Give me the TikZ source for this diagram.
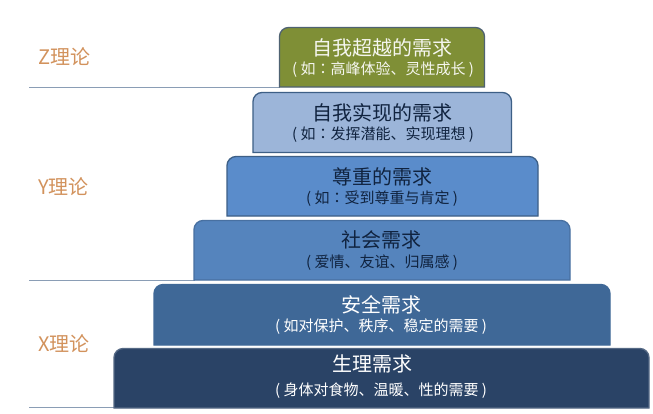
\documentclass[tikz,border=0pt]{standalone}
\usepackage{fontspec}
\setmainfont{Liberation Sans}
\newfontfamily\cjk{Noto Sans CJK SC}
\newfontfamily\cjktc{Noto Sans CJK TC}
\newcommand{\mcolon}{{\cjktc ：}}
\definecolor{edgeA}{HTML}{4F6272}
\definecolor{edgeB}{HTML}{3D5F86}
\definecolor{fillA}{HTML}{7F8F36}
\definecolor{fillB}{HTML}{9CB5D9}
\definecolor{fillC}{HTML}{5A8CCB}
\definecolor{fillD}{HTML}{5584BD}
\definecolor{fillE}{HTML}{3F6897}
\definecolor{fillF}{HTML}{2A4366}
\definecolor{ruleC}{HTML}{8A9DB5}
\definecolor{theoryC}{HTML}{D2925C}
\definecolor{darkT}{HTML}{10233F}
\tikzset{
  x=1pt,y=-1pt,
  tier/.style={draw=edgeB,line width=1.3pt,rounded corners=9pt},
  headtext/.style={font=\cjk\fontsize{20}{22}\selectfont,inner sep=0pt},
  subtext/.style={font=\cjk\fontsize{15}{17}\selectfont,inner sep=0pt},
  theory/.style={font=\cjk\fontsize{20}{22}\selectfont,text=theoryC,inner sep=0pt,anchor=west},
  divider/.style={draw=ruleC,line width=1pt},
  mark text/.style={font=\cjk\fontsize{14}{16}\selectfont,text=white,inner sep=0pt,opacity=.9},
}
\begin{document}
\begin{tikzpicture}
\useasboundingbox (0,0) rectangle (653,413);
\fill[white] (0,0) rectangle (653,413);
% dividers
\coordinate (z1) at (29,87); \coordinate (z2) at (280,87);
\coordinate (y1) at (29,280); \coordinate (y2) at (195,280);
\coordinate (x1) at (29,407); \coordinate (x2) at (115,407);
\draw[divider] (z1) -- (z2);
\draw[divider] (y1) -- (y2);
\draw[divider] (x1) -- (x2);
% tiers
\draw[tier,fill=fillA,draw=edgeA] (279.5,87) [sharp corners] -- (279.5,87) [rounded corners=9pt] -- (279.5,27.5) -- (484.5,27.5) [sharp corners] -- (484.5,87) -- cycle;
\draw[tier,fill=fillB] (253,152.5) [rounded corners=9pt] -- (253,92.5) -- (511.5,92.5) [sharp corners] -- (511.5,152.5) -- cycle;
\draw[tier,fill=fillC] (227,216) [rounded corners=9pt] -- (227,156.5) -- (538,156.5) [sharp corners] -- (538,216) -- cycle;
\draw[tier,fill=fillD,draw=fillD!85!black] (194,280) [rounded corners=9pt] -- (194,220.5) -- (570,220.5) [sharp corners] -- (570,280) -- cycle;
\draw[tier,fill=fillE,draw=fillE] (154,345) [rounded corners=9pt] -- (154,284.5) -- (610,284.5) [sharp corners] -- (610,345) -- cycle;
\draw[tier,fill=fillF,draw=fillF!80!white] (114,408) [rounded corners=9pt] -- (114,348.5) -- (649,348.5) [sharp corners] -- (649,408) -- cycle;
% labels
\node[theory] (zt) at (38,57) {Z理论};
\node[theory] (yt) at (38,187) {Y理论};
\node[theory] (xt) at (38,344) {X理论};
% tier text
\node[headtext,text=white!92!fillA] (a1) at (382,47.5) {自我超越的需求};
\node[subtext,text=white!92!fillA] (a2) at (383,70) {( 如\mcolon 高峰体验、灵性成长 )};
\node[headtext,text=darkT] (b1) at (382,113) {自我实现的需求};
\node[subtext,text=darkT] (b2) at (383,135) {( 如\mcolon 发挥潜能、实现理想 )};
\node[headtext,text=darkT] (c1) at (382,177) {尊重的需求};
\node[subtext,text=darkT] (c2) at (382,199) {( 如\mcolon 受到尊重与肯定 )};
\node[headtext,text=darkT] (d1) at (381,240) {社会需求};
\node[subtext,text=darkT] (d2) at (382,263) {( 爱情、友谊、归属感 )};
\node[headtext,text=white] (e1) at (381,305) {安全需求};
\node[subtext,text=white] (e2) at (381,327) {( 如对保护、秩序、稳定的需要 )};
\node[headtext,text=white] (f1) at (372,364) {生理需求};
\node[subtext,text=white] (f2) at (381,391) {( 身体对食物、温暖、性的需要 )};
% watermark
\node[mark text,draw=none] (wm) at (59,399.5) {大数跨境};
\end{tikzpicture}
\end{document}
